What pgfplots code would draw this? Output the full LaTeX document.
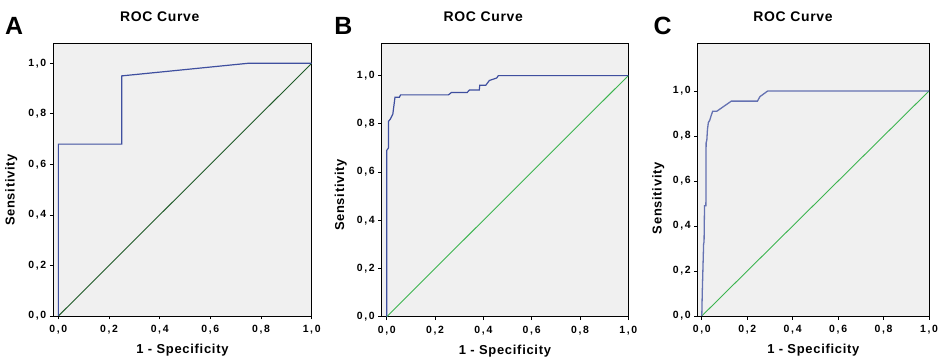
\documentclass[border=0pt]{standalone}
\usepackage{fontspec}
\setmainfont{Liberation Sans}
\usepackage{pgfplots}
\pgfplotsset{compat=1.18}
\definecolor{rocblue}{HTML}{3F4F9F}
\definecolor{bgc}{HTML}{F0F0F0}
\definecolor{dgreen}{HTML}{1E5A28}
\definecolor{lgreen}{HTML}{3CB450}
\pgfplotsset{rocstyle/.style={
  scale only axis,
  axis background/.style={fill=bgc},
  axis line style={black, line width=0.9bp},
  tick align=outside,
  tick pos=left,
  tick style={black, line width=0.8bp},
  major tick length=3.5bp,
  xtick={0,0.2,0.4,0.6,0.8,1},
  ytick={0,0.2,0.4,0.6,0.8,1},
  xmax=1, ymin=0,
  tick label style={font=\fontsize{10.5}{11}\selectfont\bfseries\addfontfeature{LetterSpace=16}},
  xticklabel style={yshift=-2bp},
  /pgf/number format/.cd, use comma, fixed, fixed zerofill, precision=1, assume math mode=true,
  /pgfplots/.cd,
  label style={font=\fontsize{13}{14}\selectfont\bfseries\addfontfeature{LetterSpace=5.5}},
  xlabel={1 - Specificity},
  ylabel={Sensitivity},
  xlabel style={at={(axis description cs:0.5,-0.125)}, anchor=center},
  title={ROC Curve},
  title style={font=\fontsize{14}{15}\selectfont\bfseries\addfontfeature{LetterSpace=5}, at={(axis description cs:0.412,1)}, anchor=center, yshift=20.6bp},
}}
\begin{document}
\begin{tikzpicture}
\useasboundingbox (0,0) rectangle (941bp,363bp);
% Panel A
\begin{axis}[rocstyle, at={(53.3bp,47bp)}, anchor=south west,
  width=258.4bp, height=272.7bp, xmin=-0.02, ymax=1.079,
  ylabel style={at={(axis description cs:-0.1625,0.462)}, anchor=center}]
\addplot[dgreen, line width=0.9bp] coordinates {(0,0) (1,1)};
\addplot[rocblue, line width=1.2bp] coordinates {
(0,0) (0,0.68) (0.25,0.68) (0.25,0.95) (0.75,1.0) (1,1)};
\end{axis}
% Panel B
\begin{axis}[rocstyle, at={(381.7bp,46.3bp)}, anchor=south west,
  width=246.6bp, height=273.4bp, xmin=-0.021, ymax=1.134,
  ylabel style={at={(axis description cs:-0.166,0.445)}, anchor=center}]
\addplot[lgreen, line width=0.9bp] coordinates {(0,0) (1,1)};
\addplot[rocblue, line width=1.2bp] coordinates {
(0,0) (0,0.69) (0.007,0.70) (0.007,0.81) (0.015,0.82) (0.025,0.84)
(0.034,0.91) (0.052,0.91) (0.057,0.92) (0.255,0.92) (0.268,0.93)
(0.333,0.93) (0.342,0.94) (0.383,0.94) (0.385,0.96) (0.410,0.96)
(0.425,0.98) (0.455,0.99) (0.462,1.0) (1,1)};
\end{axis}
% Panel C
\begin{axis}[rocstyle, at={(697.7bp,47bp)}, anchor=south west,
  width=231.3bp, height=272.7bp, xmin=-0.018, ymax=1.212,
  ylabel style={at={(axis description cs:-0.170,0.432)}, anchor=center}]
\addplot[lgreen, line width=0.9bp] coordinates {(0,0) (1,1)};
\addplot[rocblue!80!white, line width=1.3bp] coordinates {
(0,0) (0.002,0.10) (0.008,0.32) (0.010,0.33) (0.012,0.49) (0.018,0.49)
(0.019,0.77) (0.022,0.78) (0.025,0.83) (0.029,0.86) (0.035,0.87)
(0.041,0.89) (0.048,0.91) (0.066,0.91) (0.13,0.955) (0.245,0.955)
(0.256,0.975) (0.29,1.0) (1,1)};
\end{axis}
\node[font=\fontsize{25}{25}\selectfont\bfseries] at (14bp,337.2bp) {A};
\node[font=\fontsize{25}{25}\selectfont\bfseries] at (343.3bp,337.2bp) {B};
\node[font=\fontsize{25}{25}\selectfont\bfseries] at (662.5bp,337.2bp) {C};
\end{tikzpicture}
\end{document}
